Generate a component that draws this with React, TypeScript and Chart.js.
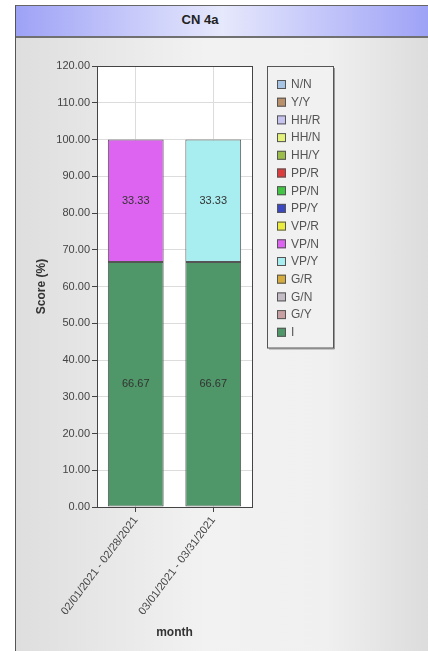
import React, { useEffect, useRef } from "react";
import { Chart, registerables } from "chart.js";

Chart.register(...registerables);

const chartTitle = "CN 4a";
const xAxisTitle = "month";
const yAxisTitle = "Score (%)";
const categories = ["02/01/2021 - 02/28/2021", "03/01/2021 - 03/31/2021"];

// stack order: bottom to top
const seriesNames = ["I", "G/Y", "G/N", "G/R", "VP/Y", "VP/N", "VP/R", "PP/Y", "PP/N", "PP/R", "HH/Y", "HH/N", "HH/R", "Y/Y", "N/N"];
const seriesColors = [
  "#4f9668", "#c8a0a4", "#c4bcc4", "#d4ac40", "#a8eef0", "#dd64f0", "#ecec40", "#3c48c0",
  "#44c444", "#dc3c3c", "#9cbc4c", "#e4f27c", "#c8c4f0", "#b8906c", "#a8c4e4",
];
const valuesI = [66.67, 66.67];
const valuesVPN = [33.33, null];
const valuesVPY = [null, 33.33];
const valuesEmpty = [null, null];

const yMin = 0;
const yMax = 120;
const yStep = 10;

const FONT = "'Liberation Sans', Arial, sans-serif";

function seriesData(name: string): (number | null)[] {
  if (name === "I") return valuesI;
  if (name === "VP/N") return valuesVPN;
  if (name === "VP/Y") return valuesVPY;
  return valuesEmpty;
}

const plotBackground = {
  id: "plotBackground",
  beforeDraw(chart: any) {
    const { ctx, chartArea: a } = chart;
    ctx.save();
    ctx.fillStyle = "#ffffff";
    ctx.fillRect(a.left, a.top, a.right - a.left, a.bottom - a.top);
    ctx.restore();
  },
};

const plotFrame = {
  id: "plotFrame",
  afterDatasetsDraw(chart: any) {
    const { ctx, chartArea: a } = chart;
    ctx.save();
    ctx.strokeStyle = "#444";
    ctx.lineWidth = 1;
    ctx.strokeRect(Math.round(a.left) + 0.5, Math.round(a.top) + 0.5, Math.round(a.right - a.left), Math.round(a.bottom - a.top));
    ctx.restore();
  },
};

const dataLabels = {
  id: "dataLabels",
  afterDatasetsDraw(chart: any) {
    const { ctx } = chart;
    ctx.save();
    ctx.font = `11px ${FONT}`;
    ctx.textAlign = "center";
    ctx.textBaseline = "middle";
    chart.data.datasets.forEach((ds: any, di: number) => {
      const meta = chart.getDatasetMeta(di);
      meta.data.forEach((el: any, i: number) => {
        const v = ds.data[i];
        if (v == null || v === 0) return;
        ctx.fillStyle = "#333";
        ctx.fillText(v.toFixed(2), el.x, (el.y + el.base) / 2);
      });
    });
    ctx.restore();
  },
};

const boxLegend = {
  id: "boxLegend",
  afterDraw(chart: any) {
    const { ctx, chartArea: a } = chart;
    const ds = chart.data.datasets.slice().reverse();
    const left = Math.round(a.right) + 15;
    const top = Math.round(a.top);
    const rowH = 17.7;
    const w = 66;
    const h = 18 + rowH * ds.length - 2;
    ctx.save();
    ctx.fillStyle = "#f1f1f1";
    ctx.fillRect(left, top, w, h);
    ctx.strokeStyle = "#9a9a9a";
    ctx.lineWidth = 1;
    ctx.beginPath();
    ctx.moveTo(left + 2, top + h + 1.5);
    ctx.lineTo(left + w + 1.5, top + h + 1.5);
    ctx.lineTo(left + w + 1.5, top + 2);
    ctx.stroke();
    ctx.strokeStyle = "#555";
    ctx.strokeRect(left + 0.5, top + 0.5, w, h);
    ctx.font = `12px ${FONT}`;
    ctx.textBaseline = "middle";
    ctx.textAlign = "left";
    ds.forEach((d: any, i: number) => {
      const cy = top + 18 + i * rowH;
      ctx.fillStyle = d.backgroundColor;
      ctx.fillRect(left + 10, cy - 4, 9, 9);
      ctx.strokeStyle = "#555";
      ctx.strokeRect(left + 10.5, cy - 3.5, 8, 8);
      ctx.fillStyle = "#555";
      ctx.fillText(d.label, left + 24, cy + 1);
    });
    ctx.restore();
  },
};

export default function App() {
  const canvasRef = useRef<HTMLCanvasElement | null>(null);

  useEffect(() => {
    if (!canvasRef.current) return;
    const chart = new Chart(canvasRef.current, {
      type: "bar",
      data: {
        labels: categories,
        datasets: seriesNames.map((name, i) => ({
          label: name,
          data: seriesData(name),
          backgroundColor: seriesColors[i],
          borderColor: "#555",
          borderWidth: 1,
          borderSkipped: false,
          barPercentage: 0.72,
          categoryPercentage: 1,
        })),
      },
      options: {
        responsive: false,
        animation: false,
        layout: { padding: { top: 66, left: 30, right: 176, bottom: 7 } },
        plugins: {
          legend: { display: false },
          title: { display: false },
          tooltip: { enabled: false },
        },
        scales: {
          x: {
            stacked: true,
            grid: { offset: false, color: "#dcdcdc", tickColor: "#444", tickLength: 5 },
            border: { color: "#444" },
            ticks: {
              minRotation: 53,
              maxRotation: 53,
              padding: 2,
              color: "#444",
              font: { family: FONT, size: 11 },
              autoSkip: false,
            },
            title: {
              display: true,
              text: xAxisTitle,
              color: "#333",
              font: { family: FONT, size: 12, weight: "bold" },
            },
            afterFit: (scale: any) => {
              scale.height = 137;
            },
          },
          y: {
            stacked: true,
            min: yMin,
            max: yMax,
            grid: { color: "#dcdcdc", tickColor: "#444", tickLength: 5 },
            border: { color: "#444" },
            ticks: {
              stepSize: yStep,
              padding: 2,
              color: "#444",
              font: { family: FONT, size: 11 },
              callback: (v: any) => Number(v).toFixed(2),
            },
            title: {
              display: true,
              text: yAxisTitle,
              color: "#333",
              font: { family: FONT, size: 12, weight: "bold" },
            },
            afterFit: (scale: any) => {
              scale.width = 67;
            },
          },
        },
      },
      plugins: [plotBackground, plotFrame, dataLabels, boxLegend],
    } as any);
    return () => chart.destroy();
  }, []);

  return (
    <div style={{ position: "absolute", left: 0, top: 0, width: 428, height: 651, overflow: "hidden", background: "#fff" }}>
      <div
        style={{
          position: "absolute",
          left: 15,
          top: 5,
          width: 440,
          height: 660,
          borderLeft: "1px solid #555",
          borderTop: "1px solid #666",
          background: "linear-gradient(to right, #dedede 0px, #f2f2f2 190px, #f0f0f0 310px, #dcdcdc 413px)",
        }}
      >
        <div
          style={{
            position: "absolute",
            left: 0,
            top: 0,
            width: 413,
            height: 30,
            borderBottom: "2px solid #707070",
            background: "linear-gradient(to right, #9ea2f6 0%, #e6e8fc 50%, #9ea2f6 100%)",
          }}
        >
          <span
            style={{
              position: "absolute",
              left: 184,
              top: 6,
              transform: "translateX(-50%)",
              fontFamily: FONT,
              fontWeight: "bold",
              fontSize: 13,
              color: "#222",
              whiteSpace: "nowrap",
            }}
          >
            {chartTitle}
          </span>
        </div>
      </div>
      <canvas
        ref={canvasRef}
        width={428}
        height={651}
        style={{ position: "absolute", left: 0, top: 0, width: 428, height: 651 }}
      />
    </div>
  );
}
